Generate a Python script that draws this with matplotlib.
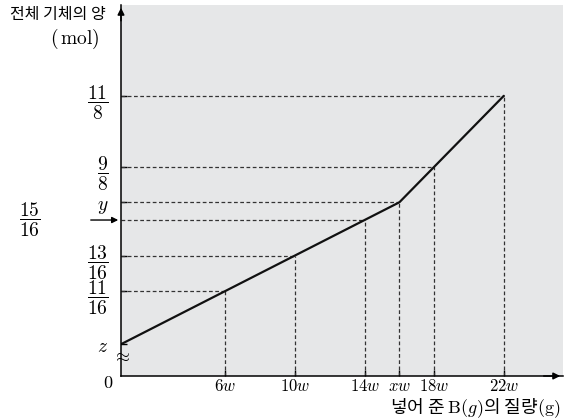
import matplotlib.pyplot as plt

plt.rcParams['font.family'] = ['Noto Sans CJK KR', 'DejaVu Sans']
plt.rcParams['mathtext.fontset'] = 'cm'

# === Data ===
# line: start (0, z), bend at (xw, y), end at 22w
line_x = [0, 16, 22]
line_y = [0.5, 1.0, 11 / 8]

# marked points on the line (x in units of w)
mark_x = [6, 10, 14, 16, 18, 22]
mark_y = [11 / 16, 13 / 16, 15 / 16, 1.0, 9 / 8, 11 / 8]
x_labels = [r"$6w$", r"$10w$", r"$14w$", r"$xw$", r"$18w$", r"$22w$"]

y_tick_vals = [0.5, 11 / 16, 13 / 16, 1.0, 9 / 8, 11 / 8]
y_tick_labels = [r"$z$", r"$\dfrac{11}{16}$", r"$\dfrac{13}{16}$", r"$y$",
                 r"$\dfrac{9}{8}$", r"$\dfrac{11}{8}$"]
arrow_val = 15 / 16
arrow_label = r"$\dfrac{15}{16}$"

# === Plotting ===
fig = plt.figure(figsize=(5.69, 4.2), dpi=100)
ax = fig.add_axes([121 / 569, 44 / 420, 442 / 569, 371 / 420])
ax.set_facecolor("#e6e7e8")
ax.set_xlim(0, 442 / 17.4)
ax.set_ylim(0.388, 1.695)

for s in ["top", "right"]:
    ax.spines[s].set_visible(False)
for s in ["left", "bottom"]:
    ax.spines[s].set_linewidth(1.1)

# dashed guides
for mx, my in zip(mark_x, mark_y):
    ax.plot([0, mx], [my, my], color="#333333", lw=0.9, ls=(0, (3, 2)))
    ax.plot([mx, mx], [0.388, my], color="#333333", lw=0.9, ls=(0, (3, 2)))

ax.plot(line_x, line_y, color="#111111", lw=1.6, solid_capstyle="round")

ax.set_xticks(mark_x, x_labels, fontsize=12)
ax.set_yticks(y_tick_vals, y_tick_labels, fontsize=14)
ax.tick_params(direction="in", length=4, width=1, pad=1.5)
ax.tick_params(axis="y", pad=9)

# axis arrows
ax.annotate("", xy=(1, 0), xytext=(0.95, 0), xycoords="axes fraction",
            arrowprops=dict(arrowstyle="-|>", color="k", lw=1.1, mutation_scale=10))
ax.annotate("", xy=(0, 1), xytext=(0, 0.95), xycoords="axes fraction",
            arrowprops=dict(arrowstyle="-|>", color="k", lw=1.1, mutation_scale=10))

# 15/16 label with arrow
ax.annotate("", xy=(0, arrow_val), xytext=(-33, 0), textcoords="offset pixels",
            arrowprops=dict(arrowstyle="-|>", color="k", lw=1, mutation_scale=9),
            annotation_clip=False)
ax.annotate(arrow_label, xy=(0, arrow_val), xytext=(-91, 0), textcoords="offset pixels",
            fontsize=14, ha="center", va="center", annotation_clip=False)

# axis break
ax.text(0, 0.459, r"$\approx$", fontsize=13, ha="center", va="center",
        clip_on=False, zorder=5)

# origin
fig.text(108 / 569, 1 - 383 / 420, r"$0$", fontsize=13, ha="center", va="center")

# axis titles
fig.text(58 / 569, 1 - 14 / 420, "전체 기체의 양", fontsize=11.5, ha="center", va="center")
fig.text(75 / 569, 1 - 39 / 420, r"$(\,\mathrm{mol})$", fontsize=14, ha="center", va="center")
fig.text(475 / 569, 1 - 408 / 420, r"넣어 준 $\mathrm{B}(g)$의 질량$(\mathrm{g})$",
         fontsize=13, ha="center", va="center")

fig.savefig("out.png", dpi=100)
